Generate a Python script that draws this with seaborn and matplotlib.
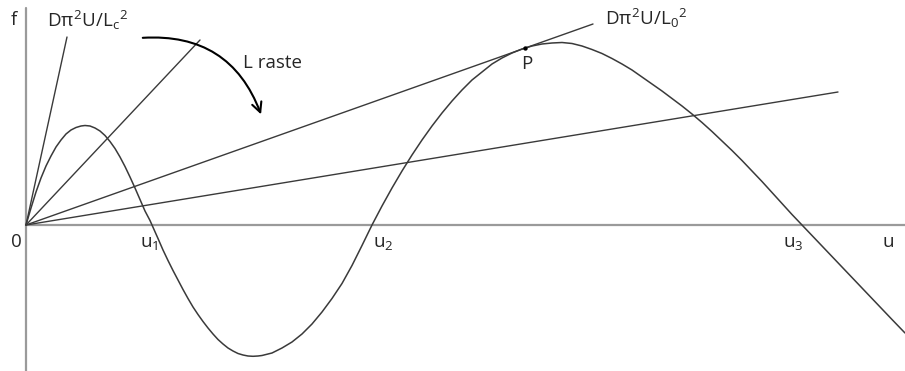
import matplotlib
matplotlib.use("Agg")
import matplotlib.pyplot as plt
import seaborn as sns
import pandas as pd

# curve f(u)
curve_u = [0, 5, 10, 15, 20, 25, 30, 35, 40, 45, 50, 55, 59, 64, 69, 74, 79, 84, 89, 94,
           99, 104, 109, 114, 119, 124, 126, 132, 137, 142, 147, 152, 157, 162, 167, 172,
           177, 182, 187, 192, 197, 202, 207, 212, 217, 222, 227, 232, 236, 246, 256, 266,
           276, 286, 296, 306, 316, 326, 336, 346, 356, 366, 376, 386, 396, 406, 416, 426,
           436, 446, 456, 466, 476, 486, 496, 506, 516, 526, 536, 546, 556, 566, 576, 586,
           596, 606, 616, 626, 636, 646, 656, 666, 676, 686, 696, 706, 716, 726, 736, 746,
           756, 766, 776, 786, 796, 806, 816, 826, 836, 846, 856, 866, 879]
curve_f = [0, 17, 33, 47, 59, 69, 78, 85, 91, 95, 97.5, 99, 99.5, 99, 97, 94, 89.5, 83.5,
           76.5, 68, 58.5, 48, 37, 25.5, 14, 4.5, 0, -13.5, -25, -35.5, -45.5, -55, -64.5,
           -73.5, -82, -89.5, -96.5, -103, -109, -114.5, -119, -123, -126, -128.5, -130,
           -131, -131.3, -131, -130.5, -128, -123, -117, -109, -99, -87, -73.5, -58.5,
           -40.5, -20.5, 0, 19, 37, 54, 70, 85, 99, 112, 124, 135, 145, 153, 161, 167,
           172, 176, 179, 181, 182, 182.5, 181.5, 179, 175.5, 171.5, 166.5, 161, 155, 148,
           141, 134, 126.5, 119, 111, 102.5, 93.5, 84, 74.5, 64.5, 54, 43.5, 32.5, 21.5,
           10.5, 0, -10.5, -21, -31.5, -42, -52.5, -63, -73.5, -84, -94.5, -108]

# straight lines from the origin (end points)
ray_u = [41, 174, 567, 812]
ray_f = [188, 185, 201, 133]

# point P
p_u = [499]
p_f = [177]

sns.set_style("white")
plt.rcParams["font.family"] = ["Open Sans", "DejaVu Sans"]
plt.rcParams["mathtext.fontset"] = "custom"
plt.rcParams["mathtext.rm"] = "Open Sans"
plt.rcParams["mathtext.it"] = "Open Sans"
plt.rcParams["mathtext.bf"] = "Open Sans"

fig = plt.figure(figsize=(9.05, 3.71), dpi=100)
ax = fig.add_axes([0, 0, 1, 1])
ax.set_xlim(-26, 879)
ax.set_ylim(-146, 225)
ax.axis("off")

axis_col = "#9a9a9a"
line_col = "#3a3a3a"

# axes
ax.plot([0, 879], [0, 0], color=axis_col, lw=1.6, zorder=1)
ax.plot([0, 0], [-146, 217], color=axis_col, lw=1.6, zorder=1)

# rays
for ue, fe in zip(ray_u, ray_f):
    d = pd.DataFrame({"u": [0, ue], "f": [0, fe]})
    sns.lineplot(data=d, x="u", y="f", ax=ax, color=line_col, lw=1.0,
                 sort=False, estimator=None, zorder=2)

# curve
dc = pd.DataFrame({"u": curve_u, "f": curve_f})
sns.lineplot(data=dc, x="u", y="f", ax=ax, color=line_col, lw=1.1,
             sort=False, estimator=None, zorder=3)

sns.scatterplot(x=p_u, y=p_f, ax=ax, color="black", s=10, zorder=4, linewidth=0)

# curved arrow
ax.annotate("", xy=(236, 108), xytext=(114, 187),
            arrowprops=dict(arrowstyle="->,head_length=0.7,head_width=0.35",
                            color="black", lw=1.5,
                            connectionstyle="arc3,rad=-0.38"))

fs = 13.5
ax.text(-12, 205, "f", fontsize=fs, ha="center", va="center")
ax.text(21, 205, r"D$\pi^2$U/L$_\mathrm{c}$$^2$", fontsize=fs, ha="left", va="center")
ax.text(579, 207, r"D$\pi^2$U/L$_0$$^2$", fontsize=fs, ha="left", va="center")
ax.text(217, 162, "L raste", fontsize=fs, ha="left", va="center")
ax.text(501, 161, "P", fontsize=fs, ha="center", va="center")
ax.text(-10, -17, "0", fontsize=fs, ha="center", va="center")
ax.text(114, -18, r"u$_1$", fontsize=fs, ha="left", va="center")
ax.text(347, -18, r"u$_2$", fontsize=fs, ha="left", va="center")
ax.text(757, -18, r"u$_3$", fontsize=fs, ha="left", va="center")
ax.text(862, -17, "u", fontsize=fs, ha="center", va="center")

fig.savefig("out.png", dpi=100)
